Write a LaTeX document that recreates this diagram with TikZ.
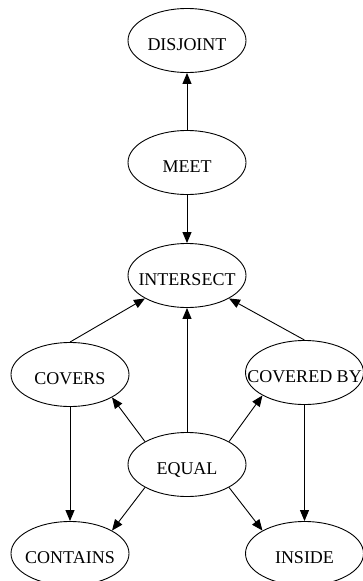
\documentclass[tikz,border=0pt]{standalone}
\usepackage{fontspec}
\setmainfont{Liberation Serif}
\usepackage{xcolor}
\usetikzlibrary{arrows.meta,shapes.geometric}

\begin{document}
\begin{tikzpicture}[
  x=1pt,y=-1pt,
  rel/.style={ellipse,draw,line width=0.9pt,inner xsep=-16pt,inner ysep=0pt,
              minimum width=118pt,minimum height=64pt,
              font=\fontsize{18}{21}\selectfont,
              text height=19.5pt,text depth=0pt},
  imp/.style={-{Triangle[length=11pt,width=9pt]},line width=0.9pt},
]
  \useasboundingbox (0,0) rectangle (363,581);

  %% relation nodes
  \node[rel](DJ) at (187,40.5)  {DISJOINT};
  \node[rel](MT) at (187,162.5) {MEET};
  \node[rel](IS) at (187,275.5) {INTERSECT};
  \node[rel](CV) at (70,374.5)  {COVERS};
  \node[rel](CB) at (304.5,372.5) {COVERED BY};
  \node[rel](EQ) at (187,464.5) {EQUAL};
  \node[rel](CT) at (70,553.5)  {CONTAINS};
  \node[rel](IN) at (304.5,553.5) {INSIDE};

  %% implications
  \draw[imp](MT.north)--(DJ.south);
  \draw[imp](MT.south)--(IS.north);
  \draw[imp](CV.north)--(IS.south west);
  \draw[imp](CB.north)--(IS.south east);
  \draw[imp](EQ.north)--(IS.south);
  \draw[imp](EQ.north west)--(CV.south east);
  \draw[imp](EQ.north east)--(CB.south west);
  \draw[imp](EQ.south west)--(CT.north east);
  \draw[imp](EQ.south east)--(IN.north west);
  \draw[imp](CV.south)--(CT.north);
  \draw[imp](CB.south)--(IN.north);
\end{tikzpicture}
\end{document}
